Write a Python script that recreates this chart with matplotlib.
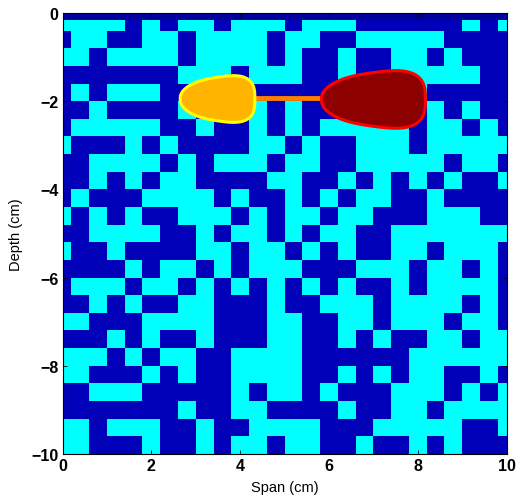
import numpy as np
import matplotlib.pyplot as plt
from matplotlib.colors import ListedColormap

plt.rcParams['font.family'] = ['Liberation Sans', 'DejaVu Sans']

# soil map, one string per 0.4 cm row from the top: C = cyan, D = dark blue
cells = [
    "CCCCDCDCCDCCCDCCCDDDDDDCDC",
    "DCCDDCCDCCCCDCCDDCCCCCDDDD",
    "CCDCCCCDCCCCDCDDCDDCCDCDDD",
    "DDDDDDDCCCDCCCDDCDDCCCCCDD",
    "DCDCCCDDCCDDDDDDDCCCCDDDDD",
    "DDCDDDDCDDDCDCDDDDDDDCDCDD",
    "DCCCCCDDCDDCDCDCCCCCDCCDCD",
    "CDDDCDCDDDDCCDCDDCCCDCCCCC",
    "DDCCCCDCDCCCDCCDDCCCCCDCCD",
    "DDCDCDCCDDDDCCDDCDCDCDCDDC",
    "DCDDDCCCCDCDDCDCDCCDDCDDDD",
    "CDCDCDDCCCDCDCCDCCDDDCCCDD",
    "DDCCCCDDCDCCDCDCCDDCCCCCCC",
    "CDDCDDDDCCDCCDCDCDDCCDCCCD",
    "DDDDCDCCDCDCCCDDDCCCDCCDCD",
    "DCCCDCCDCDCDCDCDCDDCDCCCCD",
    "DDCDCDDCCDDDCDDCCCDCCCCDCD",
    "CCDDDCCCCDDDCCDDCCDCCCDCCD",
    "DDDCDCDDCDDDCCDDCDCDDCCDCC",
    "CCCDCDCCDDCCCCDDDDDDCCCCCC",
    "CCDDDCDCDDCCCCDDCDCDCCDDCD",
    "DDCCCDDDDDCDCCDCDDDCCCDCDC",
    "DDDDDDDCDDCCDDDDCDDCCDCCCC",
    "CCDCCCDDCDDCCCCDDDCCCCCDDC",
    "CCDDDCDDCDCCDCCDDCDDCDCDDD",
]

# two anomalies joined by a rod
blob_x = [3.49, 7.0]
blob_y = [-1.95, -1.96]
blob_w = [0.84, 1.17]
blob_h = [0.60, 0.74]
blob_fill = ['#FFB400', '#8C0000']
blob_edge = ['#FFFF00', '#FF0000']

grid = np.array([[1 if c == 'C' else 0 for c in row] for row in cells])
grid = np.vstack([np.full(grid.shape[1], 2), grid])

x_edges = np.arange(grid.shape[1] + 1) * 0.4 - 0.2
y_edges = np.r_[0, -0.15, -0.4 * np.arange(1, len(cells) + 1)]


def teardrop(cx, cy, a, b, n=400):
    t = np.linspace(0, 2 * np.pi, n)
    c, s = np.cos(t), np.sin(t)
    x = np.sign(c) * np.abs(c) ** (2 / 3.0)
    y = np.sign(s) * np.abs(s) ** (2 / 3.0)
    taper = 0.4 + 0.6 * np.sqrt((x + 1) / 2)
    return cx + a * x, cy + b * y * taper


fig = plt.figure(figsize=(5.17, 5.02), dpi=100)
ax = fig.add_axes([0.121, 0.094, 0.859, 0.878])

cmap = ListedColormap(['#0000B8', '#00FFFF', '#00009C'])
ax.pcolormesh(x_edges, y_edges, grid, cmap=cmap, vmin=-0.5, vmax=2.5)

ax.plot([blob_x[0] + blob_w[0] * 0.9, blob_x[1] - blob_w[1] * 0.95],
        [-1.92, -1.92], color='#FF7F00', lw=3.5, solid_capstyle='butt', zorder=3)
for i in range(2):
    bx, by = teardrop(blob_x[i], blob_y[i], blob_w[i], blob_h[i])
    ax.fill(bx, by, facecolor=blob_fill[i], edgecolor=blob_edge[i], lw=2.2, zorder=4)

ax.set_xlim(0, 10)
ax.set_ylim(-10, 0)
ax.set_xticks([0, 2, 4, 6, 8, 10])
ax.set_yticks([0, -2, -4, -6, -8, -10])
ax.tick_params(direction='in', top=True, right=True, length=3, width=0.6,
               labelsize=11.5, pad=3)
for lab in ax.get_xticklabels() + ax.get_yticklabels():
    lab.set_fontweight('bold')
for sp in ax.spines.values():
    sp.set_linewidth(0.8)

ax.set_xlabel('Span (cm)', fontsize=10.5, labelpad=5)
ax.set_ylabel('Depth (cm)', fontsize=10.5, labelpad=6)

fig.savefig('out.png', dpi=100)
